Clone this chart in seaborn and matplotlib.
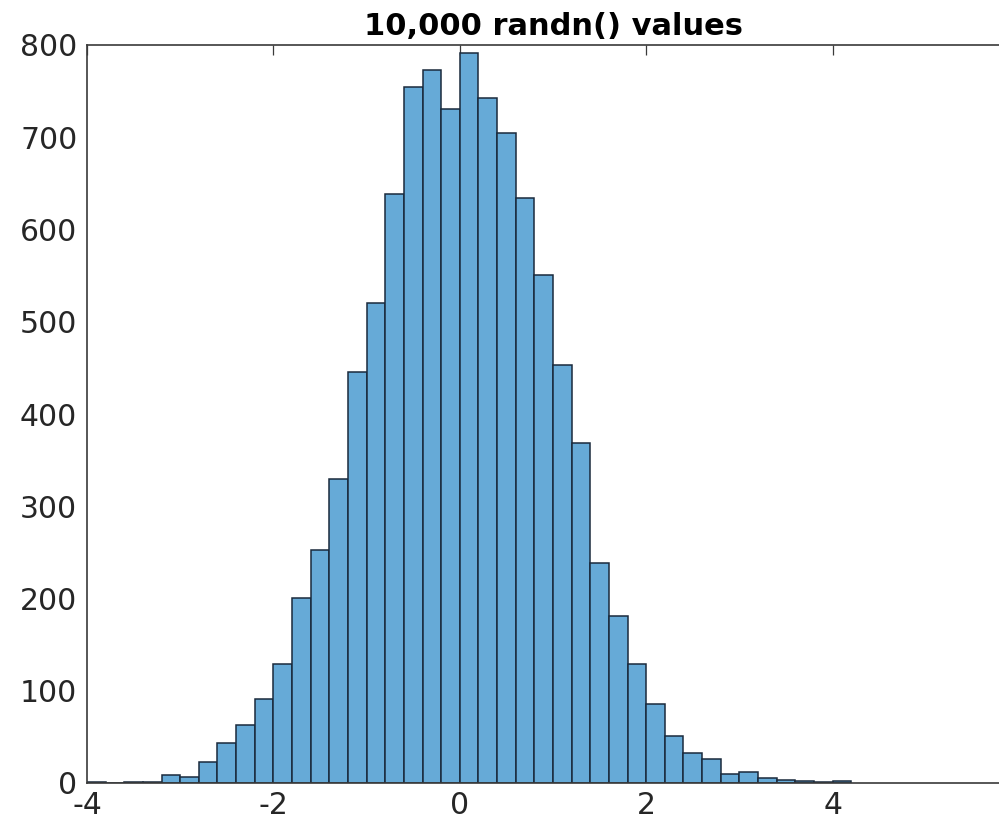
import numpy as np
import pandas as pd
import matplotlib
matplotlib.use("Agg")
import matplotlib.pyplot as plt
import seaborn as sns

# Histogram of 10,000 standard-normal draws, bin width 0.2 starting at -4.0
bin_start = -4.0
bin_width = 0.2
counts = [1, 0, 1, 1, 9, 7, 23, 43, 63, 91,
          129, 201, 253, 329, 446, 520, 639, 755, 773, 731,
          791, 743, 705, 634, 551, 453, 369, 238, 181, 129,
          86, 51, 32, 26, 10, 12, 5, 3, 2, 1, 2]
x_ticks = [-4, -2, 0, 2, 4]
y_ticks = [0, 100, 200, 300, 400, 500, 600, 700, 800]
title = "10,000 randn() values"

n_bins = len(counts)
centers = bin_start + bin_width * (np.arange(n_bins) + 0.5)
df = pd.DataFrame({"value": centers, "count": counts})

sns.set_style("white")
plt.rcParams["font.family"] = ["DejaVu Sans"]
plt.rcParams["axes.unicode_minus"] = False

fig = plt.figure(figsize=(9.99, 8.25), dpi=100)
ax = fig.add_axes([87 / 999, 42 / 825, 932 / 999, 738 / 825])

sns.histplot(data=df, x="value", weights="count", binwidth=bin_width,
             binrange=(bin_start, bin_start + bin_width * n_bins), ax=ax,
             color="#66aad7", alpha=1.0, edgecolor="#1a2a3c",
             linewidth=1.1)

ax.set_xlim(-4, 6)
ax.set_ylim(0, 800)
ax.set_xticks(x_ticks)
ax.set_yticks(y_ticks)
ax.set_xlabel("")
ax.set_ylabel("")

axis_col = "#3a3a3a"
text_col = "#262626"
for side in ["left", "bottom", "top", "right"]:
    ax.spines[side].set_visible(True)
    ax.spines[side].set_color(axis_col)
    ax.spines[side].set_linewidth(1.2)

ax.tick_params(axis="both", direction="in", length=7, width=0.9,
               color=axis_col, labelcolor=text_col, labelsize=21.5,
               top=True, right=True)
ax.tick_params(axis="x", pad=6)
ax.tick_params(axis="y", pad=7)

ax.set_title(title, fontsize=22, fontweight="bold", color="#000000", pad=7)

fig.savefig("out.png", dpi=100)
